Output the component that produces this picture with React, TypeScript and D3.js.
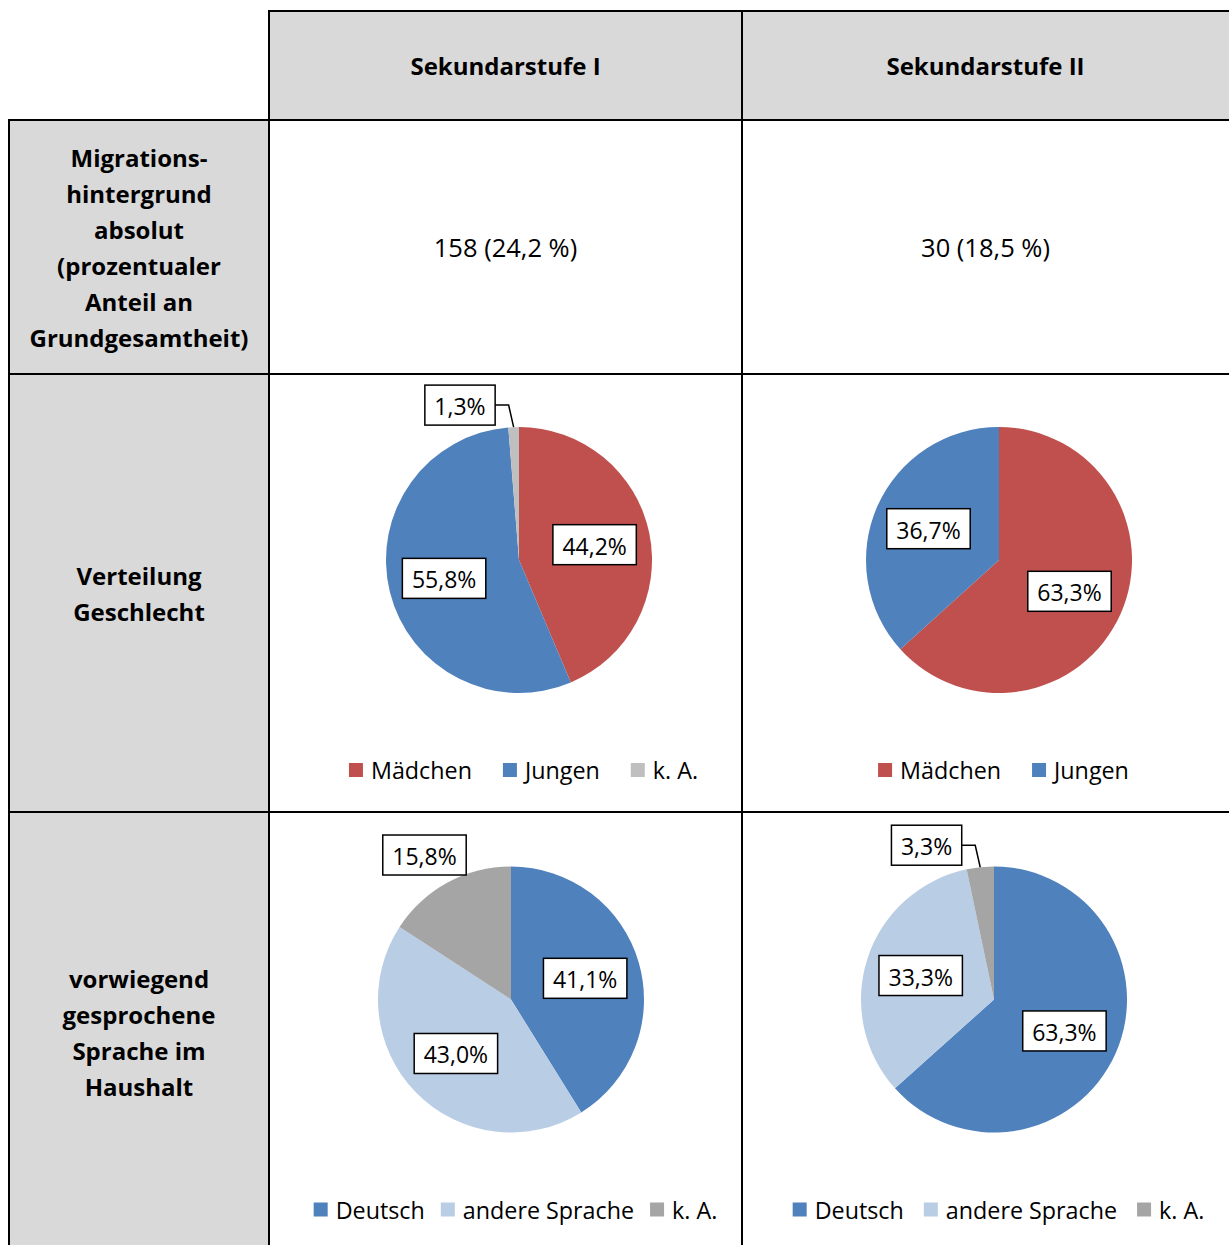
import React, { useRef, useEffect } from "react";
import * as d3 from "d3";

const svgWidth = 1229;
const svgHeight = 1245;

// table grid (the last row runs past the bottom of the picture)
const colEdges = [9, 269, 742, 1229];
const rowEdges = [11, 120, 374, 812, 1253];

const columnHeaders = ["Sekundarstufe I", "Sekundarstufe II"];
const rowHeaders = [
  ["Migrations-", "hintergrund", "absolut", "(prozentualer", "Anteil an", "Grundgesamtheit)"],
  ["Verteilung", "Geschlecht"],
  ["vorwiegend", "gesprochene", "Sprache im", "Haushalt"],
];
const absoluteValues = ["158 (24,2 %)", "30 (18,5 %)"];

const genderCategories = ["Mädchen", "Jungen", "k. A."];
const genderSek1 = [44.2, 55.8, 1.3];
const genderSek2 = [63.3, 36.7];
const genderColors = ["#c0504d", "#4f81bd", "#bfbfbf"];

const languageCategories = ["Deutsch", "andere Sprache", "k. A."];
const languageSek1 = [41.1, 43.0, 15.8];
const languageSek2 = [63.3, 33.3, 3.3];
const languageColors = ["#4f81bd", "#b9cde5", "#a5a5a5"];

const FONT = "'Open Sans', Lato, sans-serif";

const fmt = (v: number) => v.toFixed(1).replace(".", ",") + "%";

const App = () => {
  const svgRef = useRef<SVGSVGElement>(null);

  useEffect(() => {
    const svg = d3.select(svgRef.current);
    svg.selectAll("*").remove();

    const cx = (c: number) => (colEdges[c] + colEdges[c + 1]) / 2;
    const cy = (r: number) => (rowEdges[r] + rowEdges[r + 1]) / 2;

    // gray cells
    const grayCells = [
      [1, 0], [2, 0], [0, 1], [0, 2], [0, 3],
    ];
    svg
      .selectAll(".gray")
      .data(grayCells)
      .join("rect")
      .attr("x", (d) => colEdges[d[0]])
      .attr("y", (d) => rowEdges[d[1]])
      .attr("width", (d) => colEdges[d[0] + 1] - colEdges[d[0]])
      .attr("height", (d) => rowEdges[d[1] + 1] - rowEdges[d[1]])
      .attr("fill", "#d9d9d9");

    // column headers
    svg
      .selectAll(".colhead")
      .data(columnHeaders)
      .join("text")
      .attr("x", (_, i) => cx(i + 1))
      .attr("y", cy(0))
      .attr("text-anchor", "middle")
      .attr("dominant-baseline", "central")
      .attr("font-family", FONT)
      .attr("font-weight", "bold")
      .attr("font-size", 24)
      .text((d) => d);

    // row headers
    const lineH = 36;
    rowHeaders.forEach((lines, r) => {
      const mid = cy(r + 1);
      svg
        .append("g")
        .selectAll("text")
        .data(lines)
        .join("text")
        .attr("x", cx(0))
        .attr("y", (_, i) => mid + (i - (lines.length - 1) / 2) * lineH)
        .attr("text-anchor", "middle")
        .attr("dominant-baseline", "central")
        .attr("font-family", FONT)
        .attr("font-weight", "bold")
        .attr("font-size", 24)
        .text((d) => d);
    });

    // absolute values
    svg
      .selectAll(".abs")
      .data(absoluteValues)
      .join("text")
      .attr("x", (_, i) => cx(i + 1))
      .attr("y", cy(1))
      .attr("text-anchor", "middle")
      .attr("dominant-baseline", "central")
      .attr("font-family", FONT)
      .attr("font-size", 25.5)
      .text((d) => d);

    // pies
    const charts = [
      { col: 1, row: 2, values: genderSek1, cats: genderCategories, colors: genderColors, dx: 13.5, gap: 31 },
      { col: 2, row: 2, values: genderSek2, cats: genderCategories.slice(0, 2), colors: genderColors, dx: 13.5, gap: 31 },
      { col: 1, row: 3, values: languageSek1, cats: languageCategories, colors: languageColors, dx: 5.5, gap: 16 },
      { col: 2, row: 3, values: languageSek2, cats: languageCategories, colors: languageColors, dx: 8.5, gap: 20 },
    ];

    const radius = 133;
    const pie = d3.pie<number>().sort(null).value((d) => d);
    const arc = d3.arc<d3.PieArcDatum<number>>().innerRadius(0).outerRadius(radius);
    const inner = d3.arc<d3.PieArcDatum<number>>().innerRadius(radius * 0.58).outerRadius(radius * 0.58);
    const outer = d3.arc<d3.PieArcDatum<number>>().innerRadius(radius * 1.27).outerRadius(radius * 1.27);
    const edge = d3.arc<d3.PieArcDatum<number>>().innerRadius(radius).outerRadius(radius);

    charts.forEach((ch) => {
      const px = cx(ch.col) + ch.dx;
      const py = cy(ch.row) - 33;
      const color = d3.scaleOrdinal<number, string>().domain(d3.range(ch.colors.length)).range(ch.colors);
      const g = svg.append("g").attr("transform", `translate(${px},${py})`);
      const arcs = pie(ch.values);

      g.selectAll("path")
        .data(arcs)
        .join("path")
        .attr("d", arc)
        .attr("fill", (d) => color(d.index));

      arcs.forEach((a) => {
        const lg = g.append("g");
        const t = lg
          .append("text")
          .attr("text-anchor", "middle")
          .attr("dominant-baseline", "central")
          .attr("font-family", FONT)
          .attr("font-size", 23)
          .text(fmt(a.data));
        const tw = (t.node() as SVGTextElement).getComputedTextLength();
        const bw = tw + 19;
        const bh = 40;
        let x: number, y: number;
        if (a.data >= 20) {
          [x, y] = inner.centroid(a);
        } else if (a.data >= 5) {
          [x, y] = outer.centroid(a);
          x -= 6;
          y += 4;
        } else {
          const [ax, ay] = edge.centroid(a);
          x = ax - 18.5 - bw / 2;
          y = ay - 22;
          lg.append("polyline")
            .attr("points", `${ax},${ay} ${ax - 5},${y} ${ax - 18.5},${y}`)
            .attr("fill", "none")
            .attr("stroke", "#000")
            .attr("stroke-width", 1.5);
        }
        lg.insert("rect", "text")
          .attr("x", x - bw / 2)
          .attr("y", y - bh / 2)
          .attr("width", bw)
          .attr("height", bh)
          .attr("fill", "#fff")
          .attr("stroke", "#000")
          .attr("stroke-width", 1.5);
        t.attr("x", x).attr("y", y + 1);
      });

      // legend
      const leg = svg.append("g");
      const items = leg
        .selectAll("g")
        .data(ch.cats)
        .join("g");
      items
        .append("rect")
        .attr("width", 14)
        .attr("height", 14)
        .attr("y", -7)
        .attr("fill", (_, i) => color(i));
      const texts = items
        .append("text")
        .attr("x", 22)
        .attr("dominant-baseline", "central")
        .attr("font-family", FONT)
        .attr("font-size", 23.3)
        .text((d) => d);
      let off = 0;
      const widths: number[] = [];
      texts.each(function () {
        widths.push((this as SVGTextElement).getComputedTextLength());
      });
      const offsets = widths.map((w) => {
        const o = off;
        off += 22 + w + ch.gap;
        return o;
      });
      const total = off - ch.gap;
      items.attr("transform", (_, i) => `translate(${offsets[i]},0)`);
      leg.attr("transform", `translate(${px + 4.5 - total / 2},${cy(ch.row) + 177})`);
    });

    // grid lines
    const hLines = [
      { y: rowEdges[0], x1: colEdges[1], x2: colEdges[3] },
      { y: rowEdges[1], x1: colEdges[0], x2: colEdges[3] },
      { y: rowEdges[2], x1: colEdges[0], x2: colEdges[3] },
      { y: rowEdges[3], x1: colEdges[0], x2: colEdges[3] },
    ];
    const vLines = [
      { x: colEdges[0], y1: rowEdges[1], y2: svgHeight },
      { x: colEdges[1], y1: rowEdges[0], y2: svgHeight },
      { x: colEdges[2], y1: rowEdges[0], y2: svgHeight },
    ];
    svg
      .selectAll(".hl")
      .data(hLines)
      .join("line")
      .attr("x1", (d) => d.x1 - 1)
      .attr("x2", (d) => d.x2)
      .attr("y1", (d) => d.y)
      .attr("y2", (d) => d.y)
      .attr("stroke", "#000")
      .attr("stroke-width", 2);
    svg
      .selectAll(".vl")
      .data(vLines)
      .join("line")
      .attr("x1", (d) => d.x)
      .attr("x2", (d) => d.x)
      .attr("y1", (d) => d.y1 - 1)
      .attr("y2", (d) => d.y2)
      .attr("stroke", "#000")
      .attr("stroke-width", 2);
  }, []);

  return (
    <div style={{ position: "absolute", left: 0, top: 0 }}>
      <svg ref={svgRef} width={svgWidth} height={svgHeight} style={{ display: "block", background: "#fff" }} />
    </div>
  );
};

export default App;
